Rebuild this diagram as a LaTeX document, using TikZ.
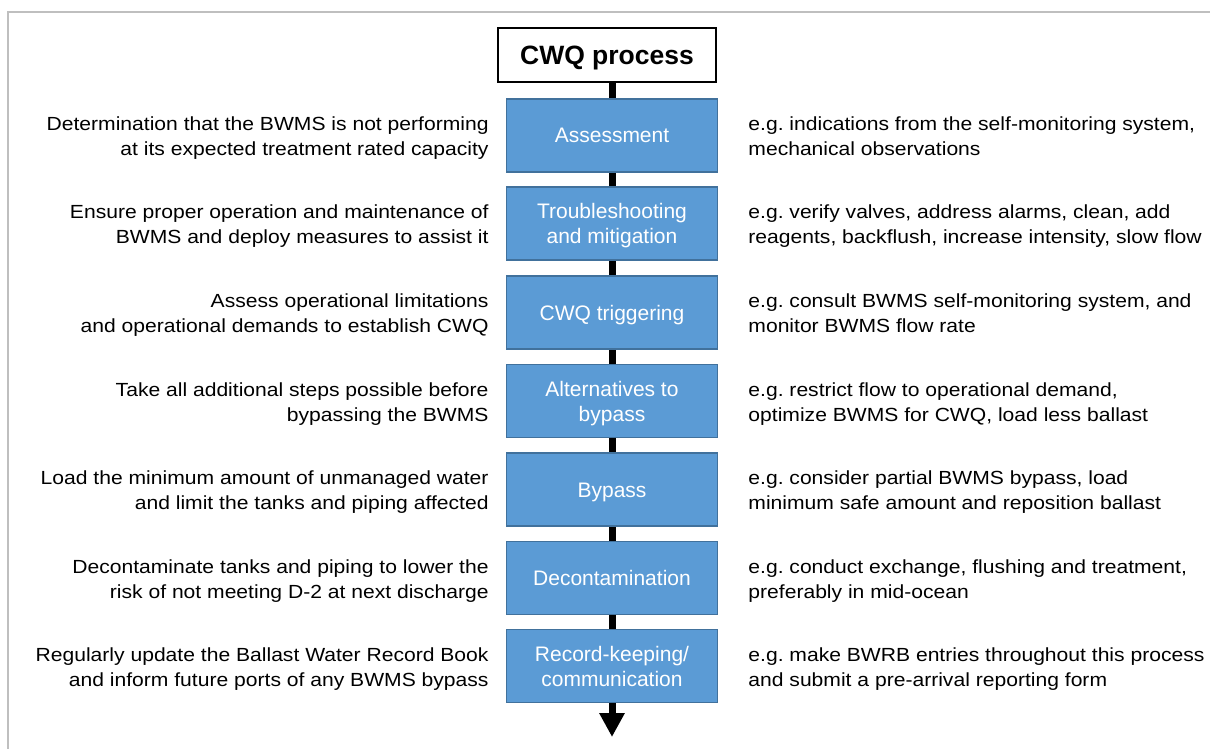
\documentclass[tikz,border=0pt]{standalone}
\usepackage{fontspec}
\setmainfont{Liberation Sans}
\newfontfamily\sidefont{Liberation Sans}[FakeStretch=1.11]
\usetikzlibrary{arrows.meta}
\definecolor{boxblue}{HTML}{5B9BD5}
\definecolor{boxedge}{HTML}{41719C}
\definecolor{framegray}{HTML}{BFBFBF}
\frenchspacing
\newcommand\mytabc[2][2.5pt]{\raisebox{-#1}[\height][\depth]{\begin{tabular}{@{}c@{}}#2\end{tabular}}}
\newcommand\mytabr[1]{\raisebox{-2.5pt}[\height][\depth]{\begin{tabular}{@{}r@{}}#1\end{tabular}}}
\newcommand\mytabl[1]{\raisebox{-2.5pt}[\height][\depth]{\begin{tabular}{@{}l@{}}#1\end{tabular}}}
\begin{document}
\begin{tikzpicture}[x=1pt,y=-1pt,
  stepbox/.style={draw=boxedge, line width=1.5pt, fill=boxblue, minimum width=211pt,
    minimum height=73pt, inner sep=0pt, text=white,
    font=\fontsize{21}{25}\selectfont},
  titlebox/.style={draw=black, line width=1.5pt, fill=white, minimum width=218pt,
    minimum height=54pt, inner sep=0pt, font=\bfseries\fontsize{26.5}{30}\selectfont},
  lefttext/.style={anchor=east, inner sep=0pt, text=black,
    font=\sidefont\fontsize{19}{25}\selectfont},
  righttext/.style={anchor=west, inner sep=0pt, text=black,
    font=\sidefont\fontsize{19}{25}\selectfont},
  spine/.style={line width=7pt, draw=black}
]
\useasboundingbox (0,0) rectangle (1210,749);
\draw[framegray, line width=1.5pt] (8,749) -- (8,12) -- (1210,12);

\node[titlebox] (title) at (607,55) {\mytabc[3.5pt]{CWQ process}};

\coordinate (a) at (612,135.5);
\coordinate (b) at (612,223.5);
\coordinate (c) at (612,312.5);
\coordinate (d) at (612,401);
\coordinate (e) at (612,489.5);
\coordinate (f) at (612,578);
\coordinate (g) at (612,666);
\coordinate (end) at (612,737);

\draw[spine] (title.south -| a) -- (a) -- (b) -- (c) -- (d) -- (e) -- (f) -- (g);
\draw[spine, -{Triangle[width=24pt,length=24pt]}] (g) -- (end);

\node[stepbox] (sa) at (a) {\mytabc{Assessment}};
\node[stepbox] (sb) at (b) {\mytabc{Troubleshooting\\and mitigation}};
\node[stepbox] (sc) at (c) {\mytabc{CWQ triggering}};
\node[stepbox] (sd) at (d) {\mytabc{Alternatives to\\bypass}};
\node[stepbox] (se) at (e) {\mytabc{Bypass}};
\node[stepbox] (sf) at (f) {\mytabc{Decontamination}};
\node[stepbox] (sg) at (g) {\mytabc{Record-keeping/\\communication}};

\node[lefttext] (la) at ([xshift=-17pt]sa.west) {\mytabr{Determination that the BWMS is not performing\\at its expected treatment rated capacity}};
\node[lefttext] (lb) at ([xshift=-17pt]sb.west) {\mytabr{Ensure proper operation and maintenance of\\BWMS and deploy measures to assist it}};
\node[lefttext] (lc) at ([xshift=-17pt]sc.west) {\mytabr{Assess operational limitations\\and operational demands to establish CWQ}};
\node[lefttext] (ld) at ([xshift=-17pt]sd.west) {\mytabr{Take all additional steps possible before\\bypassing the BWMS}};
\node[lefttext] (le) at ([xshift=-17pt]se.west) {\mytabr{Load the minimum amount of unmanaged water\\and limit the tanks and piping affected}};
\node[lefttext] (lf) at ([xshift=-17pt]sf.west) {\mytabr{Decontaminate tanks and piping to lower the\\risk of not meeting D-2 at next discharge}};
\node[lefttext] (lg) at ([xshift=-17pt]sg.west) {\mytabr{Regularly update the Ballast Water Record Book\\and inform future ports of any BWMS bypass}};

\node[righttext] (ra) at ([xshift=30pt]sa.east) {\mytabl{e.g. indications from the self-monitoring system,\\mechanical observations}};
\node[righttext] (rb) at ([xshift=30pt]sb.east) {\mytabl{e.g. verify valves, address alarms, clean, add\\reagents, backflush, increase intensity, slow flow}};
\node[righttext] (rc) at ([xshift=30pt]sc.east) {\mytabl{e.g. consult BWMS self-monitoring system, and\\monitor BWMS flow rate}};
\node[righttext] (rd) at ([xshift=30pt]sd.east) {\mytabl{e.g. restrict flow to operational demand,\\optimize BWMS for CWQ, load less ballast}};
\node[righttext] (re) at ([xshift=30pt]se.east) {\mytabl{e.g. consider partial BWMS bypass, load\\minimum safe amount and reposition ballast}};
\node[righttext] (rf) at ([xshift=30pt]sf.east) {\mytabl{e.g. conduct exchange, flushing and treatment,\\preferably in mid-ocean}};
\node[righttext] (rg) at ([xshift=30pt]sg.east) {\mytabl{e.g. make BWRB entries throughout this process\\and submit a pre-arrival reporting form}};
\end{tikzpicture}
\end{document}
